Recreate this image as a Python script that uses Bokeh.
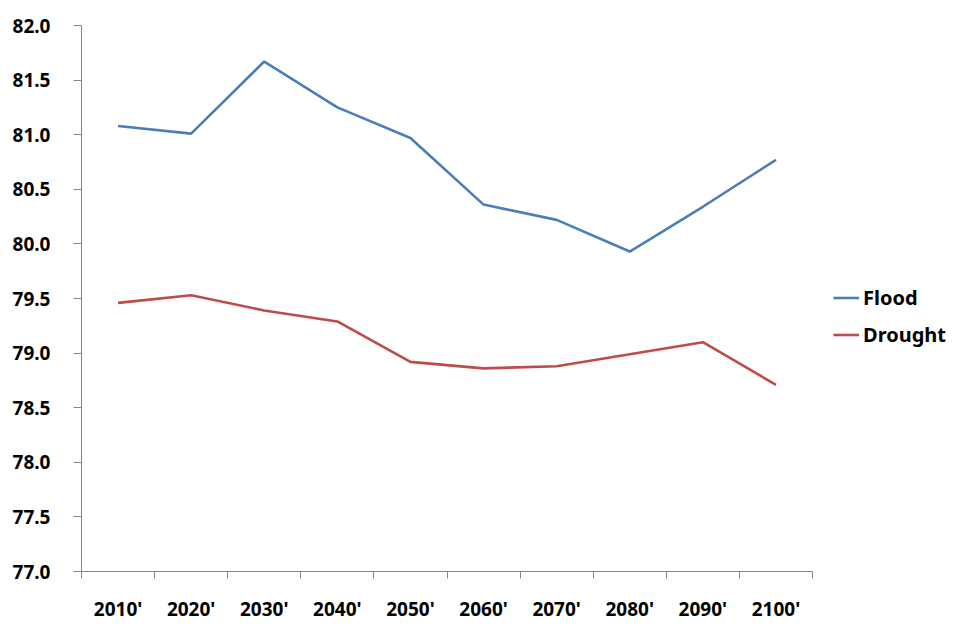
from bokeh.plotting import figure
from bokeh.models import ColumnDataSource, FixedTicker, Legend, LegendItem, Range1d
from bokeh.embed import file_html
from bokeh.resources import INLINE

categories = ["2010'", "2020'", "2030'", "2040'", "2050'", "2060'", "2070'", "2080'", "2090'", "2100'"]
flood = [81.08, 81.01, 81.67, 81.25, 80.97, 80.36, 80.22, 79.93, 80.34, 80.77]
drought = [79.46, 79.53, 79.39, 79.29, 78.92, 78.86, 78.88, 78.99, 79.10, 78.71]
y_ticks = [77.0, 77.5, 78.0, 78.5, 79.0, 79.5, 80.0, 80.5, 81.0, 81.5, 82.0]

n = len(categories)
xpos = [i + 0.5 for i in range(n)]
src = ColumnDataSource(dict(x=xpos, flood=flood, drought=drought))

# the frame also spans the legend area on the right; the axis is bounded to the data span
axis_px, frame_px = 731, 879
p = figure(width=960, height=630, output_backend="svg", toolbar_location=None,
           x_range=Range1d(0, n * frame_px / axis_px), y_range=Range1d(77, 82),
           min_border_left=81, min_border_right=0, min_border_top=25, min_border_bottom=59)
p.outline_line_color = None
p.xgrid.visible = False
p.ygrid.visible = False
p.background_fill_color = "white"
p.border_fill_color = "white"

r1 = p.line("x", "flood", source=src, line_color="#4A7EBB", line_width=2.6)
r2 = p.line("x", "drought", source=src, line_color="#BE4B48", line_width=2.6)

# x axis: labels at category centres, ticks at category boundaries
p.xaxis.bounds = (0, n)
p.xaxis.ticker = FixedTicker(ticks=xpos, minor_ticks=list(range(n + 1)))
p.xaxis.major_label_overrides = {x: c for x, c in zip(xpos, categories)}
p.xaxis.major_tick_line_color = None
p.xaxis.minor_tick_line_color = "#868686"
p.xaxis.minor_tick_in = 0
p.xaxis.minor_tick_out = 7
p.xaxis.axis_line_color = "#868686"
p.xaxis.major_label_standoff = 17
p.xaxis.major_label_text_font = "Noto Sans"
p.xaxis.major_label_text_font_style = "bold"
p.xaxis.major_label_text_font_size = "19px"
p.xaxis.major_label_text_color = "black"

p.yaxis.ticker = FixedTicker(ticks=y_ticks, minor_ticks=[])
p.yaxis.major_label_overrides = {t: f"{t:.1f}" for t in y_ticks}
p.yaxis.major_tick_line_color = "#868686"
p.yaxis.major_tick_in = 0
p.yaxis.major_tick_out = 8
p.yaxis.axis_line_color = "#868686"
p.yaxis.major_label_standoff = 23
p.yaxis.major_label_text_font = "Noto Sans"
p.yaxis.major_label_text_font_style = "bold"
p.yaxis.major_label_text_font_size = "19px"
p.yaxis.major_label_text_color = "black"

legend = Legend(items=[LegendItem(label="Flood", renderers=[r1]),
                       LegendItem(label="Drought", renderers=[r2])],
                location=(752, 223))
legend.border_line_color = None
legend.background_fill_alpha = 0
legend.label_text_font = "Noto Sans"
legend.label_text_font_style = "bold"
legend.label_text_font_size = "20px"
legend.label_text_color = "black"
legend.glyph_width = 26
legend.glyph_height = 25
legend.label_height = 25
legend.label_standoff = 4
legend.spacing = 10
legend.padding = 0
legend.margin = 0
p.add_layout(legend, "center")

open("out.html", "w").write(file_html(p, INLINE))
